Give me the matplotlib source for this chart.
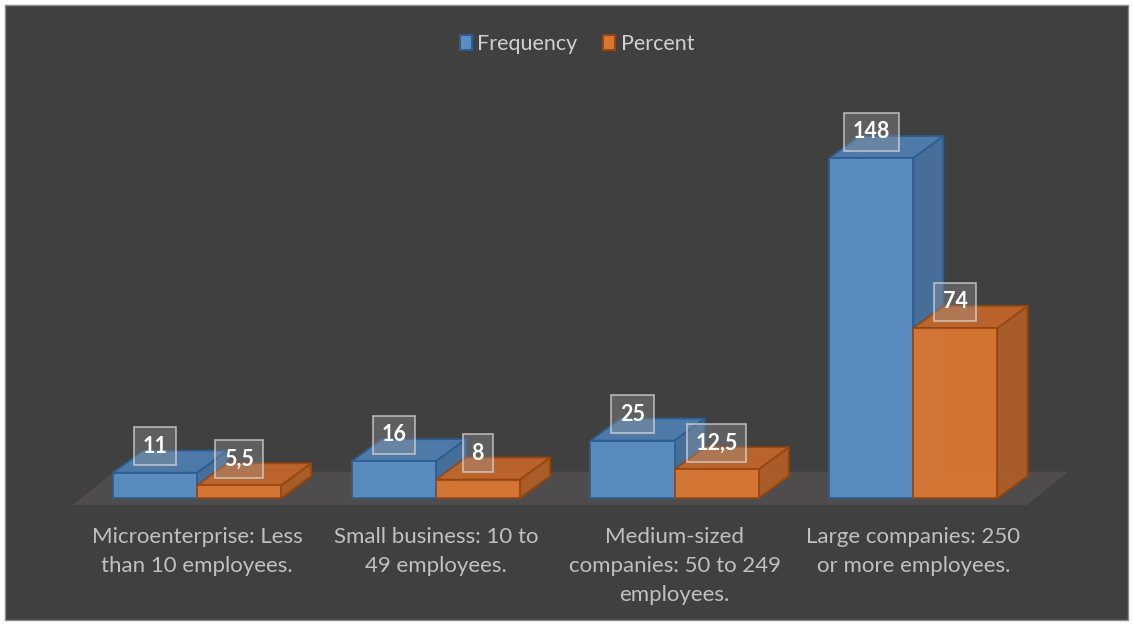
import matplotlib
matplotlib.use("Agg")
import matplotlib.pyplot as plt
from matplotlib.patches import Polygon, Rectangle, Patch

# ── data ──────────────────────────────────────────────────────────────────────
categories = [
    "Microenterprise: Less\nthan 10 employees.",
    "Small business: 10 to\n49 employees.",
    "Medium-sized\ncompanies: 50 to 249\nemployees.",
    "Large companies: 250\nor more employees.",
]
frequency = [11, 16, 25, 148]
percent = [5.5, 8, 12.5, 74]
series_names = ["Frequency", "Percent"]

# ── styles ────────────────────────────────────────────────────────────────────
BG = "#404040"
FLOOR = "#4e4c4d"
TXT = "#c0c0c0"
STYLE = {
    "Frequency": dict(front="#5a8ec4", top="#4e7dae", side="#47719d", edge="#2c5d90"),
    "Percent":   dict(front="#da7632", top="#c0662b", side="#ad5e28", edge="#96470f"),
}
FONT = "Lato"

BAR_W = 0.352        # width of one bar in category units
DX, DY = 0.126, 9.6  # 3-D depth offset (x in category units, y in value units)

fig = plt.figure(figsize=(11.33, 6.25), dpi=100, facecolor="white")
W, H = 1133, 625
fig.add_artist(Rectangle((5 / W, 5 / H), 1 - 10 / W, 1 - 10 / H,
                         transform=fig.transFigure, facecolor=BG,
                         edgecolor="#8a8a8a", lw=1.0, zorder=0))

ax = fig.add_axes([0, 0, 1, 1])
ax.set_xlim(-0.825, 3.92)
ax.set_ylim(-55.3, 216.8)
ax.axis("off")

# floor plane
n = len(categories)
fl_x0, fl_x1 = -0.52, n - 1 + 0.476
fl_y0, fl_y1 = -3.0, 11.4
fl_dx = 0.172
ax.add_patch(Polygon([(fl_x0, fl_y0), (fl_x1, fl_y0),
                      (fl_x1 + fl_dx, fl_y1), (fl_x0 + fl_dx, fl_y1)],
                     closed=True, facecolor=FLOOR, edgecolor="none", zorder=1))


def draw_box(x0, x1, v, st, z):
    front = [(x0, 0), (x1, 0), (x1, v), (x0, v)]
    top = [(x0, v), (x1, v), (x1 + DX, v + DY), (x0 + DX, v + DY)]
    side = [(x1, 0), (x1 + DX, DY), (x1 + DX, v + DY), (x1, v)]
    # hidden back edges, faintly visible through the faces
    ax.plot([x0 + DX, x0 + DX], [DY, v + DY], color=st["edge"], lw=0.8, alpha=0.35, zorder=z)
    ax.plot([x0, x0 + DX, x1 + DX], [0, DY, DY], color=st["edge"], lw=0.8, alpha=0.35, zorder=z)
    for pts, fc in [(side, st["side"]), (top, st["top"]), (front, st["front"])]:
        ax.add_patch(Polygon(pts, closed=True, facecolor=fc, edgecolor=st["edge"],
                             lw=1.3, joinstyle="round", alpha=0.96, zorder=z))


def fmt(v):
    return f"{v:g}".replace(".", ",")


for i in range(n):
    for j, (name, vals) in enumerate(zip(series_names, [frequency, percent])):
        x0 = i - BAR_W + j * BAR_W
        x1 = x0 + BAR_W
        draw_box(x0, x1, vals[i], STYLE[name], z=2 + i * 2 + j)

for i in range(n):
    for j, vals in enumerate([frequency, percent]):
        xc = i - BAR_W / 2 + j * BAR_W
        ax.annotate(fmt(vals[i]), xy=(xc, vals[i]), xytext=(0, 19),
                    textcoords="offset points", ha="center", va="center",
                    fontsize=15.5, fontweight="bold", color="white", family=FONT,
                    zorder=20,
                    bbox=dict(boxstyle="square,pad=0.4", fc=(0.6, 0.6, 0.6, 0.35),
                              ec=(0.85, 0.85, 0.85, 0.75), lw=1.2))

for i, lab in enumerate(categories):
    ax.text(i, -12.8, lab, ha="center", va="top", fontsize=16, color=TXT,
            family=FONT, linespacing=1.55, zorder=20)

handles = [Patch(facecolor=STYLE[s]["front"], edgecolor=STYLE[s]["edge"], lw=1.4)
           for s in series_names]
leg = fig.legend(handles, series_names, loc="center", bbox_to_anchor=(577 / W, 1 - 44 / H),
                 ncol=2, frameon=False, handlelength=0.55, handleheight=0.7,
                 handletextpad=0.25, columnspacing=1.2, prop=dict(family=FONT, size=15.5))
for t in leg.get_texts():
    t.set_color("#d0d0d0")

fig.savefig("out.png", dpi=100, facecolor=fig.get_facecolor())
